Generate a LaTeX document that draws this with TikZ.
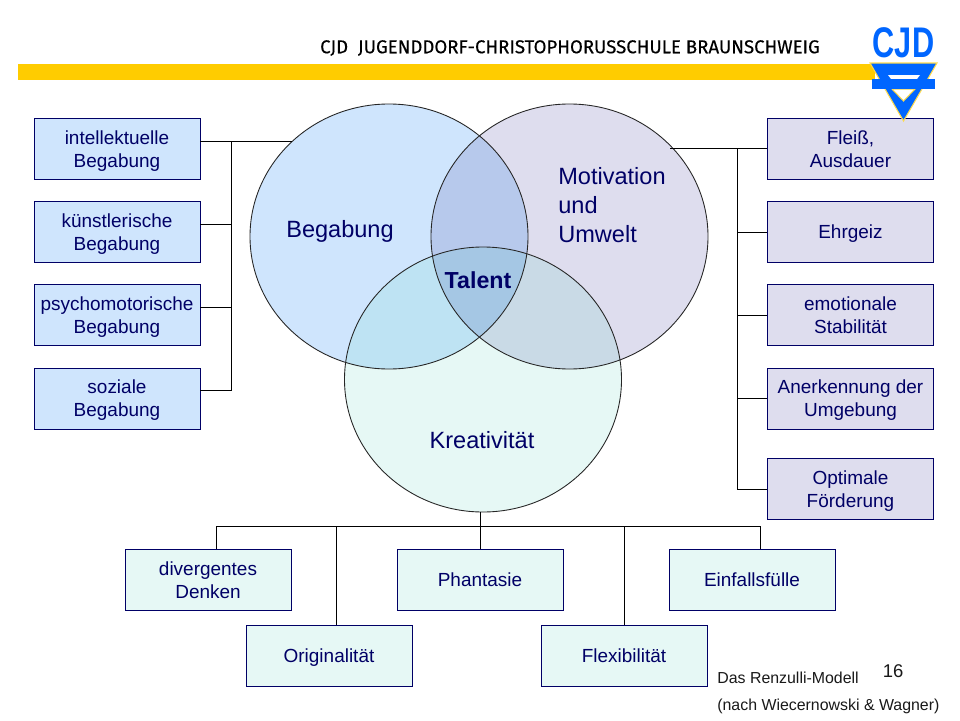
\documentclass[tikz,border=0pt]{standalone}
\usepackage{fontspec}
\setmainfont{Liberation Sans}
\newfontfamily\headfont[FakeBold=0.3]{Fira Sans}
\newcommand{\boxstrut}{\rule[-3pt]{0pt}{13.4pt}}
\newcommand{\twolines}[2]{\rule{0pt}{10.5pt}#1\\#2}
\definecolor{inknavy}{HTML}{000066}
\definecolor{begfill}{HTML}{CFE5FD}
\definecolor{motfill}{HTML}{DEDDEE}
\definecolor{krefill}{HTML}{E6F8F5}
\definecolor{begmot}{HTML}{B7C9EC}
\definecolor{begkre}{HTML}{BEE3F3}
\definecolor{motkre}{HTML}{C9DAE6}
\definecolor{allthree}{HTML}{A5C7E4}
\definecolor{barcol}{HTML}{FFCC00}
\definecolor{logoblue}{HTML}{0066FF}
\tikzset{
  infobox/.style={draw=inknavy, minimum width=3.32cm, minimum height=1.22cm, align=center, text=inknavy, font=\fontsize{10.8}{13}\selectfont, inner sep=0pt, execute at end node=\boxstrut},
  begbox/.style={infobox, fill=begfill},
  motbox/.style={infobox, fill=motfill},
  krebox/.style={infobox, fill=krefill},
  biglabel/.style={text=inknavy, font=\fontsize{13.4}{16.5}\selectfont, align=left, inner sep=0pt},
  footlabel/.style={inner sep=0pt, anchor=west, text=black!90, font=\fontsize{9.05}{11}\selectfont},
  link/.style={draw=black, line width=0.55pt}
}
\begin{document}
\begin{tikzpicture}[x=0.02cm, y=-0.02cm]
    \useasboundingbox (0,0) rectangle (960,720);
    \fill[white] (0,0) rectangle (960,720);
    % header
    \fill[barcol] (18,64) rectangle (875,80);
    \node[inner sep=0pt, font=\headfont\fontsize{10.6}{12}\selectfont] (title) at (570,48) {CJD\ \ JUGENDDORF-CHRISTOPHORUSSCHULE BRAUNSCHWEIG};
    % circles
    \path[fill=begfill] (389,236.5) ellipse (139 and 132.5);
    \path[fill=motfill] (569.5,236.5) ellipse (138.5 and 132.5);
    \path[fill=krefill] (483,379.5) ellipse (138.5 and 132.5);
    \begin{scope}
        \clip (389,236.5) ellipse (139 and 132.5);
        \path[fill=begmot] (569.5,236.5) ellipse (138.5 and 132.5);
        \path[fill=begkre] (483,379.5) ellipse (138.5 and 132.5);
        \clip (569.5,236.5) ellipse (138.5 and 132.5);
        \path[fill=allthree] (483,379.5) ellipse (138.5 and 132.5);
    \end{scope}
    \begin{scope}
        \clip (569.5,236.5) ellipse (138.5 and 132.5);
        \clip (483,379.5) ellipse (138.5 and 132.5);
        \fill[motkre] (300,200) rectangle (720,520);
        \clip (389,236.5) ellipse (139 and 132.5);
        \fill[allthree] (300,200) rectangle (720,520);
    \end{scope}
    \draw[black!85, line width=0.5pt] (389,236.5) ellipse (139 and 132.5);
    \draw[black!85, line width=0.5pt] (569.5,236.5) ellipse (138.5 and 132.5);
    \draw[black!85, line width=0.5pt] (483,379.5) ellipse (138.5 and 132.5);
    \node[biglabel] (begabung) at (340,231) {Begabung};
    \node[biglabel, anchor=west] (motivation) at (558,205) {Motivation\\und\\Umwelt};
    \node[biglabel] (kreativ) at (482,440) {Kreativität};
    \node[biglabel, font=\bfseries\fontsize{13.2}{16}\selectfont] (talent) at (478,280) {Talent};
    % left boxes
    \node[begbox] (intell) at (117,149) {\twolines{intellektuelle}{Begabung}};
    \node[begbox] (kuenst) at (117,232) {\twolines{künstlerische}{Begabung}};
    \node[begbox] (psycho) at (117,315) {\twolines{psychomotorische}{Begabung}};
    \node[begbox] (sozial) at (117,398.5) {\twolines{soziale}{Begabung}};
    % right boxes
    \node[motbox] (fleiss) at (850.5,149) {\twolines{Fleiß,}{Ausdauer}};
    \node[motbox] (ehrgeiz) at (850.5,232) {Ehrgeiz};
    \node[motbox] (emotion) at (850.5,315) {\twolines{emotionale}{Stabilität}};
    \node[motbox] (anerk) at (850.5,398.5) {\twolines{Anerkennung der}{Umgebung}};
    \node[motbox] (foerder) at (850.5,489) {\twolines{Optimale}{Förderung}};
    % bottom boxes
    \node[krebox] (diverg) at (208,580) {\twolines{divergentes}{Denken}};
    \node[krebox] (phant) at (480,580) {Phantasie};
    \node[krebox] (einfall) at (752,580) {Einfallsfülle};
    \node[krebox] (orig) at (329,655.5) {Originalität};
    \node[krebox] (flex) at (624,655.5) {Flexibilität};
    % logo
    \node[inner sep=0pt, text=logoblue, font=\bfseries\fontsize{23}{23}\selectfont] (logo) at (903.5,43) {\scalebox{0.76}[1.06]{CJD}};
    \fill[logoblue, draw=barcol!70!white, line width=0.6pt, even odd rule] (870,63) -- (937,63) -- (903.5,121) -- cycle (892,89) -- (915,89) -- (903.5,101) -- cycle;
    \fill[white] (888,75) -- (920,75) -- (917,79) -- (891,79) -- cycle;
    \fill[logoblue] (872,79) rectangle (935,89);
    % joints
    \coordinate (begend) at (292,141.5);
    \coordinate (begtop) at (231.7,141.5);
    \coordinate (motend) at (670,148.5);
    \coordinate (mottop) at (737.5,148.5);
    \coordinate (kreend) at (480,512);
    \coordinate (kremid) at (480,526);
    \coordinate (kreleft) at (216,526);
    \coordinate (kreright) at (760,526);
    \coordinate (kreorig) at (336,526);
    \draw[link] (intell.east |- begend) -- (begend);
    \draw[link] (begtop) -- (begtop |- 0,390) -- (sozial.east |- 0,390);
    \draw[link] (begtop |- 0,224) -- (kuenst.east |- 0,224);
    \draw[link] (begtop |- 0,307) -- (psycho.east |- 0,307);
    \draw[link] (motend) -- (fleiss.west |- motend);
    \draw[link] (mottop) -- (mottop |- foerder.west) -- (foerder.west);
    \draw[link] (mottop |- ehrgeiz.west) -- (ehrgeiz.west);
    \draw[link] (mottop |- emotion.west) -- (emotion.west);
    \draw[link] (mottop |- anerk.west) -- (anerk.west);
    \draw[link] (kreend) -- (phant.north);
    \draw[link] (kreleft |- diverg.north) -- (kreleft) -- (kreright) -- (kreright |- einfall.north);
    \draw[link] (kreorig |- orig.north) -- (kreorig);
    \draw[link] (flex.north) -- (flex.north |- kremid);
    % footer
    \node[footlabel] (modell) at (717,678) {Das Renzulli-Modell};
    \node[footlabel] (quelle) at (717,706) {(nach Wiecernowski \& Wagner)};
    \node[inner sep=0pt, text=black!90, font=\fontsize{10.5}{12}\selectfont] (seite) at (893,671) {16};
\end{tikzpicture}
\end{document}
